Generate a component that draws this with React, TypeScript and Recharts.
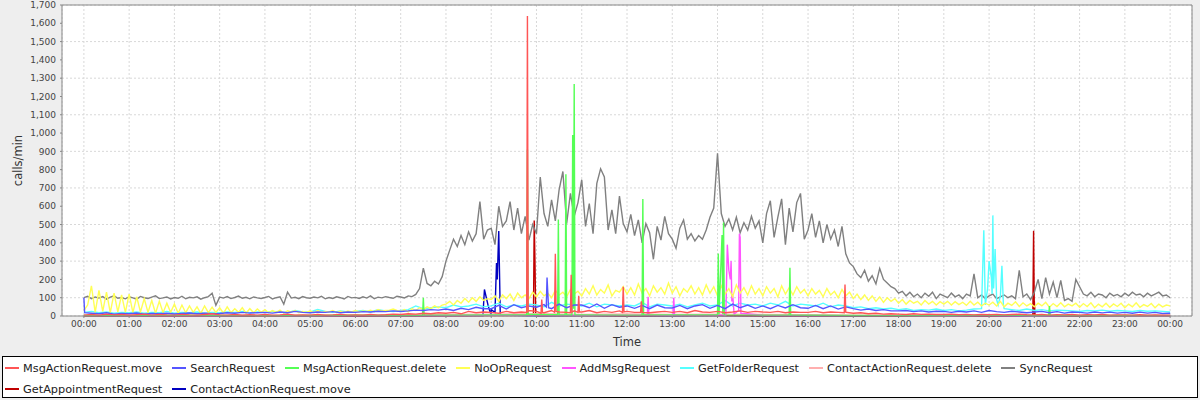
import React from 'react';
import { LineChart, Line, XAxis, YAxis, CartesianGrid, ReferenceLine } from 'recharts';

// ---- axis ticks ----
const hourTicks = [0, 60, 120, 180, 240, 300, 360, 420, 480, 540, 600, 660, 720, 780, 840, 900, 960, 1020, 1080, 1140, 1200, 1260, 1320, 1380, 1440];
const yTicks = [0, 100, 200, 300, 400, 500, 600, 700, 800, 900, 1000, 1100, 1200, 1300, 1400, 1500, 1600, 1700];

// ---- SyncRequest, one value every 5 minutes (00:00 .. 24:00) ----
const syncValues = [
  100, 108, 95, 104, 98, 106, 92, 103, 110, 97, 101, 94,
  105, 99, 92, 107, 100, 96, 103, 110, 95, 99, 104, 93,
  101, 97, 108, 94, 102, 99, 105, 92, 100, 106, 124, 58,
  103, 98, 106, 95, 101, 109, 97, 102, 94, 104, 99, 96,
  101, 107, 93, 100, 105, 65, 130, 98, 102, 95, 106, 100,
  97, 104, 99, 108, 94, 101, 96, 105, 100, 93, 107, 99,
  102, 96, 105, 98, 110, 94, 103, 99, 106, 101, 97, 108,
  104, 99, 110, 106, 118, 150, 262, 178, 165, 190, 175, 215,
  300, 360, 420, 380, 440, 390, 460, 410, 450, 625, 420, 470,
  480, 390, 600, 490, 520, 625, 470, 590, 450, 545, 415, 500,
  450, 760, 560, 490, 635, 520, 690, 790, 505, 670, 545, 620,
  745, 490, 615, 450, 725, 805, 760, 470, 580, 450, 655, 505,
  460, 555, 440, 525, 400, 505, 455, 310, 490, 415, 545, 450,
  420, 370, 480, 525, 420, 450, 410, 440, 420, 470, 540, 590,
  890, 560, 490, 530, 470, 540, 455, 510, 470, 545, 480, 520,
  400, 560, 630, 430, 540, 640, 390, 590, 460, 620, 670, 420,
  470, 560, 430, 520, 400, 500, 420, 470, 380, 490, 340, 290,
  270, 230, 210, 250, 190, 220, 175, 260, 200, 180, 160, 150,
  125, 135, 110, 130, 105, 120, 100, 125, 108, 130, 95, 120,
  110, 100, 125, 105, 115, 95, 120, 110, 230, 100, 115, 95,
  110, 120, 95, 105, 115, 100, 110, 95, 250, 105, 120, 90,
  130, 200, 95, 210, 120, 185, 100, 195, 85, 95, 80, 200,
  160, 120, 110, 130, 105, 120, 115, 100, 125, 110, 118, 105,
  125, 110, 130, 115, 120, 105, 125, 110, 120, 130, 110, 115,
  100,
];

// ---- NoOpRequest, one value every 5 minutes ----
const noOpValues = [
  30, 60, 165, 20, 140, 25, 130, 18, 125, 22, 115, 20,
  120, 18, 105, 22, 95, 20, 85, 15, 80, 18, 70, 20,
  65, 15, 60, 18, 55, 20, 50, 15, 55, 18, 48, 20,
  45, 15, 50, 18, 40, 20, 45, 15, 40, 18, 38, 20,
  35, 18, 30, 20, 32, 15, 28, 22, 30, 18, 25, 20,
  28, 18, 30, 20, 25, 22, 30, 18, 26, 20, 28, 22,
  30, 22, 28, 25, 32, 24, 35, 28, 30, 32, 38, 30,
  25, 35, 22, 40, 30, 45, 35, 50, 40, 55, 45, 60,
  65, 80, 60, 85, 70, 95, 75, 100, 80, 105, 85, 95,
  90, 110, 80, 115, 95, 120, 85, 125, 100, 115, 95, 130,
  105, 135, 110, 125, 100, 140, 115, 130, 105, 145, 120, 135,
  110, 150, 120, 165, 115, 145, 125, 170, 110, 140, 130, 160,
  120, 155, 115, 175, 125, 150, 110, 165, 130, 155, 120, 180,
  125, 160, 110, 150, 130, 165, 120, 155, 115, 170, 125, 160,
  110, 165, 120, 150, 105, 170, 125, 155, 115, 165, 120, 150,
  110, 160, 125, 150, 105, 165, 120, 155, 115, 160, 125, 145,
  110, 150, 120, 140, 105, 150, 115, 135, 100, 145, 110, 130,
  95, 120, 90, 115, 85, 110, 80, 105, 75, 100, 80, 95,
  70, 90, 65, 85, 70, 80, 60, 85, 65, 80, 60, 78,
  65, 80, 60, 78, 62, 75, 58, 80, 60, 75, 55, 70,
  60, 75, 55, 80, 50, 70, 58, 78, 52, 72, 55, 68,
  50, 70, 55, 75, 48, 68, 52, 72, 50, 65, 55, 70,
  48, 68, 52, 72, 45, 65, 50, 70, 48, 66, 52, 70,
  45, 65, 50, 72, 48, 62, 52, 68, 45, 65, 50, 60,
  55,
];

// ---- SearchRequest, one value every 10 minutes ----
const searchValues = [
  100, 15, 12, 18, 10, 14,
  12, 16, 10, 14, 12, 15,
  11, 14, 16, 12, 15, 13,
  14, 18, 15, 20, 16, 18,
  20, 16, 22, 18, 25, 20,
  18, 22, 20, 24, 18, 22,
  20, 24, 22, 26, 24, 28,
  25, 28, 32, 30, 35, 32,
  38, 30, 42, 35, 48, 40,
  40, 58, 38, 62, 45, 55,
  48, 62, 40, 65, 45, 60,
  60, 45, 66, 42, 62, 48,
  55, 42, 58, 40, 60, 45,
  44, 58, 40, 55, 62, 42,
  58, 40, 65, 45, 60, 42,
  55, 40, 58, 44, 62, 45,
  42, 58, 40, 55, 38, 50,
  40, 32, 38, 30, 35, 28,
  28, 30, 24, 28, 22, 26,
  25, 20, 26, 22, 28, 20,
  30, 24, 20, 26, 22, 18,
  22, 25, 18, 24, 16, 22,
  20, 16, 22, 17, 21, 16,
  20, 15, 21, 16, 20, 14,
  15,
];
const searchSpikes = [[1, 18], [613, 50], [614, 210], [616, 45]];

// ---- GetFolderRequest, one value every 10 minutes ----
const folderValues = [
  20, 25, 18, 22, 15, 20,
  18, 22, 15, 20, 18, 25,
  15, 20, 18, 22, 16, 20,
  18, 22, 20, 25, 18, 22,
  20, 25, 22, 18, 30, 22,
  22, 35, 25, 20, 28, 22,
  25, 30, 22, 35, 28, 25,
  30, 35, 55, 40, 45, 50,
  45, 60, 50, 55, 65, 50,
  55, 70, 50, 60, 55, 65,
  60, 50, 75, 55, 65, 60,
  55, 70, 50, 65, 60, 55,
  60, 55, 75, 50, 65, 60,
  55, 65, 50, 60, 70, 55,
  60, 85, 55, 70, 60, 65,
  55, 70, 60, 80, 55, 65,
  60, 55, 70, 50, 60, 55,
  45, 50, 40, 45, 38, 42,
  35, 40, 30, 35, 32, 38,
  30, 35, 28, 32, 38, 40,
  300, 90, 40, 35, 30, 38,
  30, 35, 28, 32, 30, 28,
  25, 30, 28, 32, 26, 30,
  28, 25, 30, 26, 28, 25,
  22,
];
const folderSpikes = [[1193, 468], [1195, 60], [1198, 150], [1203, 210], [1204, 120], [1205, 550], [1206, 150], [1208, 366], [1212, 60], [1215, 110], [1217, 274], [1219, 60]];

// ---- MsgActionRequest.move, one value every 10 minutes ----
const moveValues = [
  5, 8, 4, 10, 6, 8,
  4, 7, 10, 5, 8, 6,
  5, 9, 6, 4, 8, 12,
  6, 5, 8, 4, 7, 5,
  8, 5, 6, 10, 4, 6,
  5, 8, 4, 6, 9, 5,
  6, 4, 8, 5, 7, 10,
  8, 12, 10, 15, 12, 18,
  15, 20, 12, 25, 18, 22,
  20, 15, 25, 18, 22, 30,
  25, 18, 30, 22, 20, 28,
  22, 30, 18, 25, 20, 28,
  25, 20, 30, 18, 22, 25,
  20, 25, 18, 30, 22, 20,
  25, 18, 22, 28, 20, 25,
  22, 20, 25, 18, 22, 20,
  20, 25, 18, 22, 20, 18,
  15, 18, 12, 15, 10, 12,
  10, 8, 12, 9, 10, 8,
  8, 10, 7, 9, 6, 8,
  7, 9, 6, 8, 10, 7,
  6, 8, 5, 7, 6, 8,
  5, 7, 6, 8, 5, 6,
  6, 5, 7, 5, 6, 4,
  5,
];
const moveSpikes = [[587, 20], [588, 1640], [589, 25], [606, 15], [607, 90], [608, 20], [624, 20], [625, 340], [626, 25], [645, 18], [646, 225], [647, 20], [655, 20], [656, 110], [657, 22], [714, 20], [715, 160], [716, 22], [738, 20], [739, 80], [740, 20], [1008, 18], [1009, 172], [1010, 20]];

// ---- sparse series: one value per hour plus bursts ----
const deleteValues = [3, 2, 4, 3, 2, 3, 4, 3, 5, 6, 8, 6, 5, 6, 7, 5, 4, 3, 2, 3, 4, 3, 2, 3, 2];
const deleteSpikes = [[449, 4], [450, 100], [451, 5], [587, 6], [588, 910], [589, 8], [628, 7], [629, 528], [630, 6], [638, 6], [639, 775], [640, 7], [647, 6], [648, 990], [649, 40], [650, 1268], [651, 6], [740, 5], [741, 640], [742, 6], [840, 6], [841, 342], [842, 8], [846, 443], [847, 10], [848, 511], [849, 6], [935, 5], [936, 264], [937, 5], [1279, 4], [1280, 55], [1281, 4]];

const addMsgValues = [2, 1, 2, 1, 2, 1, 2, 3, 3, 4, 5, 4, 5, 4, 6, 4, 3, 2, 2, 1, 2, 1, 2, 1, 1];
const addMsgSpikes = [[747, 5], [748, 105], [749, 5], [781, 5], [782, 100], [783, 5], [851, 4], [853, 390], [855, 250], [857, 200], [858, 300], [859, 80], [860, 120], [862, 10], [868, 30], [869, 450], [870, 430], [871, 15]];

const apptValues = [0, 1, 0, 1, 0, 1, 0, 1, 1, 2, 2, 2, 1, 2, 2, 1, 1, 1, 0, 1, 0, 1, 0, 1, 0];
const apptSpikes = [[596, 4], [597, 522], [598, 300], [599, 4], [1258, 3], [1259, 466], [1260, 80], [1261, 3]];

const contactMoveValues = [1, 0, 1, 0, 1, 0, 1, 1, 2, 2, 1, 2, 1, 1, 2, 1, 1, 0, 1, 0, 1, 0, 1, 0, 1];
const contactMoveSpikes = [[529, 3], [531, 145], [536, 55], [540, 35], [545, 20], [547, 290], [548, 200], [550, 465], [552, 5]];

const contactDeleteValues = [3, 5, 2, 4, 3, 5, 4, 6, 8, 10, 12, 9, 11, 8, 10, 9, 7, 5, 4, 3, 5, 3, 4, 2, 3];

type Pt = { t: number; v: number };
function build(step: number, values: number[], extra: number[][] = []): Pt[] {
  const pts: Pt[] = values.map((v, i) => ({ t: i * step, v }));
  extra.forEach(([t, v]) => pts.push({ t, v }));
  pts.sort((a, b) => a.t - b.t);
  return pts;
}

const series = [
  { name: 'MsgActionRequest.move', color: '#FF5555', data: build(10, moveValues, moveSpikes) },
  { name: 'SearchRequest', color: '#5555FF', data: build(10, searchValues, searchSpikes) },
  { name: 'MsgActionRequest.delete', color: '#55FF55', data: build(60, deleteValues, deleteSpikes) },
  { name: 'NoOpRequest', color: '#FFFF55', data: build(5, noOpValues) },
  { name: 'AddMsgRequest', color: '#FF55FF', data: build(60, addMsgValues, addMsgSpikes) },
  { name: 'GetFolderRequest', color: '#55FFFF', data: build(10, folderValues, folderSpikes) },
  { name: 'ContactActionRequest.delete', color: '#FFAFAF', data: build(60, contactDeleteValues) },
  { name: 'SyncRequest', color: '#808080', data: build(5, syncValues) },
  { name: 'GetAppointmentRequest', color: '#C00000', data: build(60, apptValues, apptSpikes) },
  { name: 'ContactActionRequest.move', color: '#0000C0', data: build(60, contactMoveValues, contactMoveSpikes) },
];

const legendRows = [series.slice(0, 8), series.slice(8)];
const drawOrder = [...series].reverse();

const fmtHour = (m: number) => String(Math.floor(m / 60) % 24).padStart(2, '0') + ':00';
const fmtNum = (n: number) => n.toLocaleString('en-US');

const FONT = '"DejaVu Sans", sans-serif';

export default function App() {
  return (
    <div style={{ position: 'absolute', left: 0, top: 0, width: 1200, height: 400, background: '#eeeeee', fontFamily: FONT }}>
      <LineChart width={1200} height={400} margin={{ top: 5, right: 8, left: 0, bottom: 44 }}>
        <CartesianGrid stroke="#d8d8d8" strokeDasharray="2 2" fill="#ffffff" />
        <XAxis
          type="number"
          dataKey="t"
          domain={[-29, 1469]}
          ticks={hourTicks}
          tickFormatter={fmtHour}
          height={40}
          stroke="#888888"
          tickSize={2}
          tickMargin={3}
          tick={{ fontSize: 9, fill: '#444444', fontFamily: FONT }}
          label={(p: any) => {
            const vb = p.viewBox || {};
            return (
              <text x={vb.x + vb.width / 2} y={vb.y + 30} textAnchor="middle" fontSize={11.5} fill="#333333" fontFamily={FONT}>
                Time
              </text>
            );
          }}
        />
        <YAxis
          type="number"
          domain={[0, 1700]}
          ticks={yTicks}
          tickFormatter={fmtNum}
          width={62}
          stroke="#888888"
          tickSize={2}
          tickMargin={4}
          tick={{ fontSize: 9, fill: '#444444', fontFamily: FONT }}
          label={(p: any) => {
            const vb = p.viewBox || {};
            const cx = vb.x + 18;
            const cy = vb.y + vb.height / 2;
            return (
              <text x={cx} y={cy} transform={`rotate(-90 ${cx} ${cy})`} textAnchor="middle" dominantBaseline="middle" fontSize={11.5} fill="#333333" fontFamily={FONT}>
                calls/min
              </text>
            );
          }}
        />
        <ReferenceLine y={1700} stroke="#888888" />
        <ReferenceLine x={1469} stroke="#888888" />
        {drawOrder.map((s) => (
          <Line
            key={s.name}
            data={s.data}
            dataKey="v"
            name={s.name}
            type="linear"
            stroke={s.color}
            strokeWidth={1.4}
            dot={false}
            activeDot={false}
            isAnimationActive={false}
          />
        ))}
      </LineChart>
      <div
        style={{
          position: 'absolute',
          left: 2,
          top: 356,
          width: 1196,
          height: 42,
          boxSizing: 'border-box',
          border: '1px solid #000',
          background: '#ffffff',
          fontSize: 11.3,
          color: '#222222',
        }}
      >
        {legendRows.map((row, ri) => (
          <div key={ri} style={{ position: 'absolute', left: 2, top: ri === 0 ? 3 : 24, height: 16, display: 'flex', alignItems: 'center', whiteSpace: 'nowrap' }}>
            {row.map((s) => (
              <div key={s.name} style={{ display: 'flex', alignItems: 'center', marginRight: 10 }}>
                <span style={{ display: 'inline-block', width: 14, height: 1.5, background: s.color, marginRight: 4 }} />
                <span>{s.name}</span>
              </div>
            ))}
          </div>
        ))}
      </div>
    </div>
  );
}
